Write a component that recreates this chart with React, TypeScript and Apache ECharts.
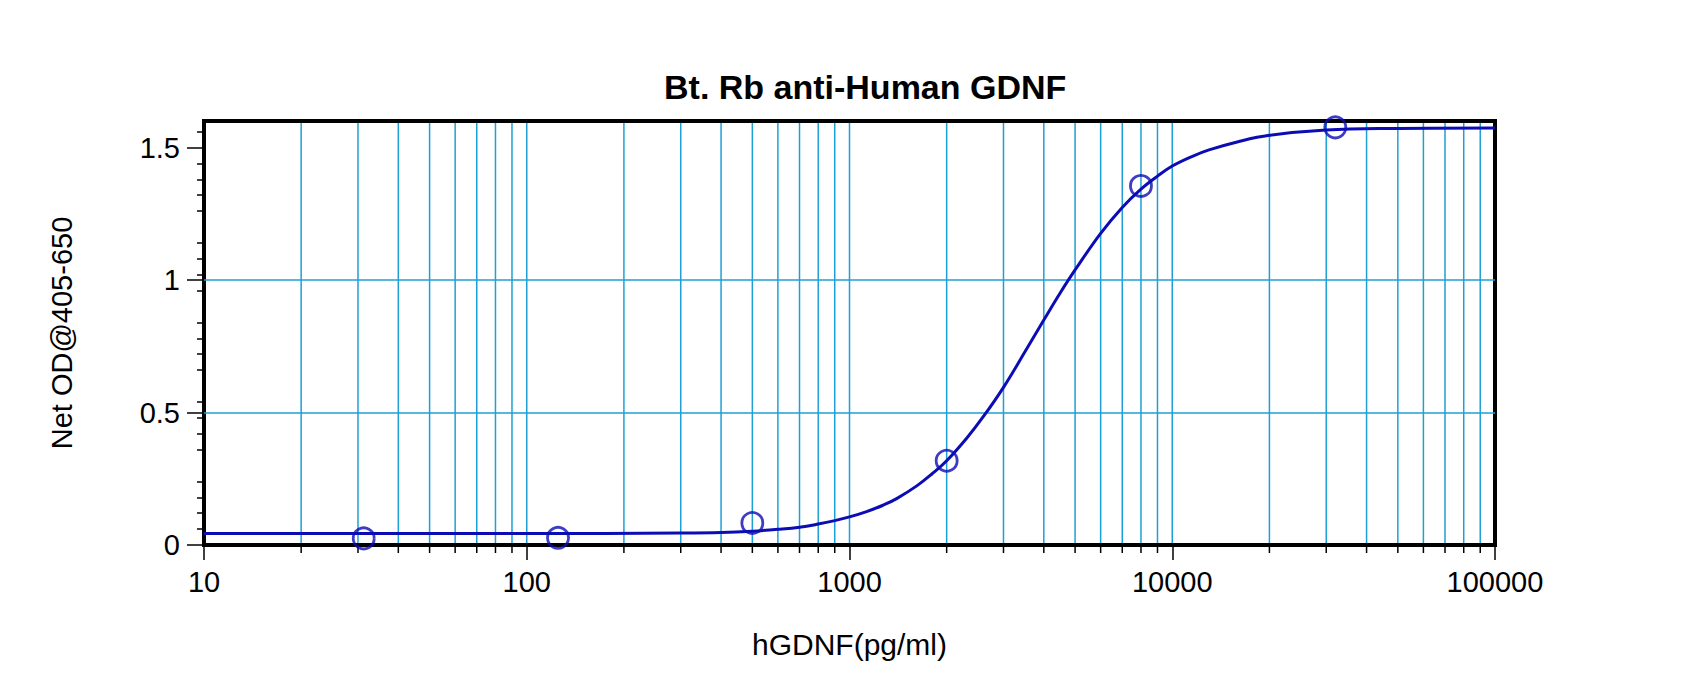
import React, { useEffect, useRef } from "react";
import * as echarts from "echarts";

const titleText = "Bt. Rb anti-Human GDNF";
const xAxisName = "hGDNF(pg/ml)";
const yAxisName = "Net OD@405-650";

// measured standards (pg/ml, OD)
const pointX = [31.25, 125, 500, 2000, 8000, 32000];
const pointY = [0.025, 0.027, 0.083, 0.318, 1.355, 1.576];

// fitted curve
const curveX = [10, 100, 300, 400, 500, 600, 700, 800, 900, 1000, 1130, 1270, 1400, 1620, 1800, 2000, 2310, 2600, 3000, 3500, 4000, 4500, 5000, 6000, 7000, 8000, 9000, 10000, 11500, 13000, 16000, 20000, 30000, 50000, 100000];
const curveY = [0.043, 0.043, 0.045, 0.047, 0.052, 0.059, 0.067, 0.079, 0.092, 0.106, 0.126, 0.15, 0.175, 0.224, 0.268, 0.318, 0.404, 0.485, 0.595, 0.73, 0.849, 0.952, 1.038, 1.176, 1.274, 1.343, 1.392, 1.43, 1.466, 1.491, 1.522, 1.546, 1.566, 1.572, 1.574];

const yTickValues = [0, 0.5, 1, 1.5];
const decades = [10, 100, 1000, 10000];
const gridMultipliers = [1, 2, 3, 4, 5, 6, 7, 8, 9];

const X_MIN = 10;
const X_MAX = 100000;
const Y_MIN = 0;
const Y_MAX = 1.6;

const GRID_COLOR = "#1ea0d6";
const BLUE = "#0c0cb4";
const FONT = "'Liberation Sans', Arial, Helvetica, sans-serif";

export default function App() {
  const ref = useRef<HTMLDivElement>(null);

  useEffect(() => {
    if (!ref.current) return;
    const chart = echarts.init(ref.current, undefined, { renderer: "svg" });

    const gridData: number[][] = [];
    decades.forEach((d) => {
      gridMultipliers.forEach((m) => {
        const v = d * m;
        if (v > X_MIN && v < X_MAX) gridData.push([v, 0, m === 1 ? 1 : 0]);
      });
    });

    const curveData = curveX.map((x, i) => [x, curveY[i]]);
    const pointData = pointX.map((x, i) => [x, pointY[i]]);

    chart.setOption({
      animation: false,
      backgroundColor: "#ffffff",
      title: {
        text: titleText,
        left: 664,
        top: 70,
        padding: 0,
        textStyle: { fontSize: 34, fontWeight: "bold", color: "#000", fontFamily: FONT },
      },
      grid: {
        left: 204,
        right: 205,
        top: 121,
        bottom: 138,
        show: true,
        borderColor: "#000",
        borderWidth: 4,
        backgroundColor: "transparent",
      },
      xAxis: {
        type: "log",
        logBase: 10,
        min: X_MIN,
        max: X_MAX,
        name: xAxisName,
        nameLocation: "middle",
        nameGap: 84,
        nameTextStyle: { fontSize: 30, color: "#000", fontFamily: FONT },
        axisLine: { show: false },
        axisTick: { show: true, length: 15, lineStyle: { color: "#000", width: 1.5 } },
        axisLabel: {
          fontSize: 29,
          color: "#000",
          margin: 22,
          fontFamily: FONT,
          formatter: (v: number) => String(Math.round(v)),
        },
        splitLine: { show: false },
        minorTick: { show: false },
      },
      yAxis: {
        type: "value",
        min: Y_MIN,
        max: Y_MAX,
        name: yAxisName,
        nameLocation: "middle",
        nameGap: 128,
        nameTextStyle: { fontSize: 29, color: "#000", fontFamily: FONT },
        axisLine: { show: false },
        axisTick: {
          show: true,
          length: 17,
          customValues: yTickValues,
          lineStyle: { color: "#000", width: 1.5 },
        },
        minorTick: { show: true, splitNumber: 5, length: 7, lineStyle: { color: "#000", width: 1.5 } },
        axisLabel: {
          fontSize: 29,
          color: "#000",
          margin: 24,
          fontFamily: FONT,
          customValues: yTickValues,
        },
        splitLine: {
          show: true,
          showMinLine: false,
          showMaxLine: false,
          lineStyle: { color: GRID_COLOR, width: 1.5 },
        },
      },
      series: [
        {
          type: "custom",
          silent: true,
          clip: false,
          z: 1,
          data: gridData,
          renderItem: (params: any, api: any) => {
            const x = api.value(0);
            const major = api.value(2) === 1;
            const top = api.coord([x, Y_MAX]);
            const bot = api.coord([x, Y_MIN]);
            const children: any[] = [
              {
                type: "line",
                shape: { x1: top[0], y1: top[1] + 2, x2: bot[0], y2: bot[1] - 2 },
                style: { stroke: GRID_COLOR, lineWidth: 1.5 },
              },
            ];
            if (!major) {
              children.push({
                type: "line",
                shape: { x1: bot[0], y1: bot[1], x2: bot[0], y2: bot[1] + 8 },
                style: { stroke: "#000", lineWidth: 1.5 },
              });
            }
            return { type: "group", children };
          },
        },
        {
          type: "line",
          data: curveData,
          showSymbol: false,
          smooth: 0.4,
          silent: true,
          z: 3,
          lineStyle: { color: BLUE, width: 3 },
        },
        {
          type: "scatter",
          data: pointData,
          symbol: "circle",
          symbolSize: 21,
          z: 4,
          itemStyle: { color: "rgba(0,0,0,0)", borderColor: BLUE, borderWidth: 2.8 },
        },
      ],
    });

    return () => chart.dispose();
  }, []);

  return (
    <div
      ref={ref}
      style={{ position: "fixed", left: 0, top: 0, width: 1700, height: 683, background: "#fff" }}
    />
  );
}
